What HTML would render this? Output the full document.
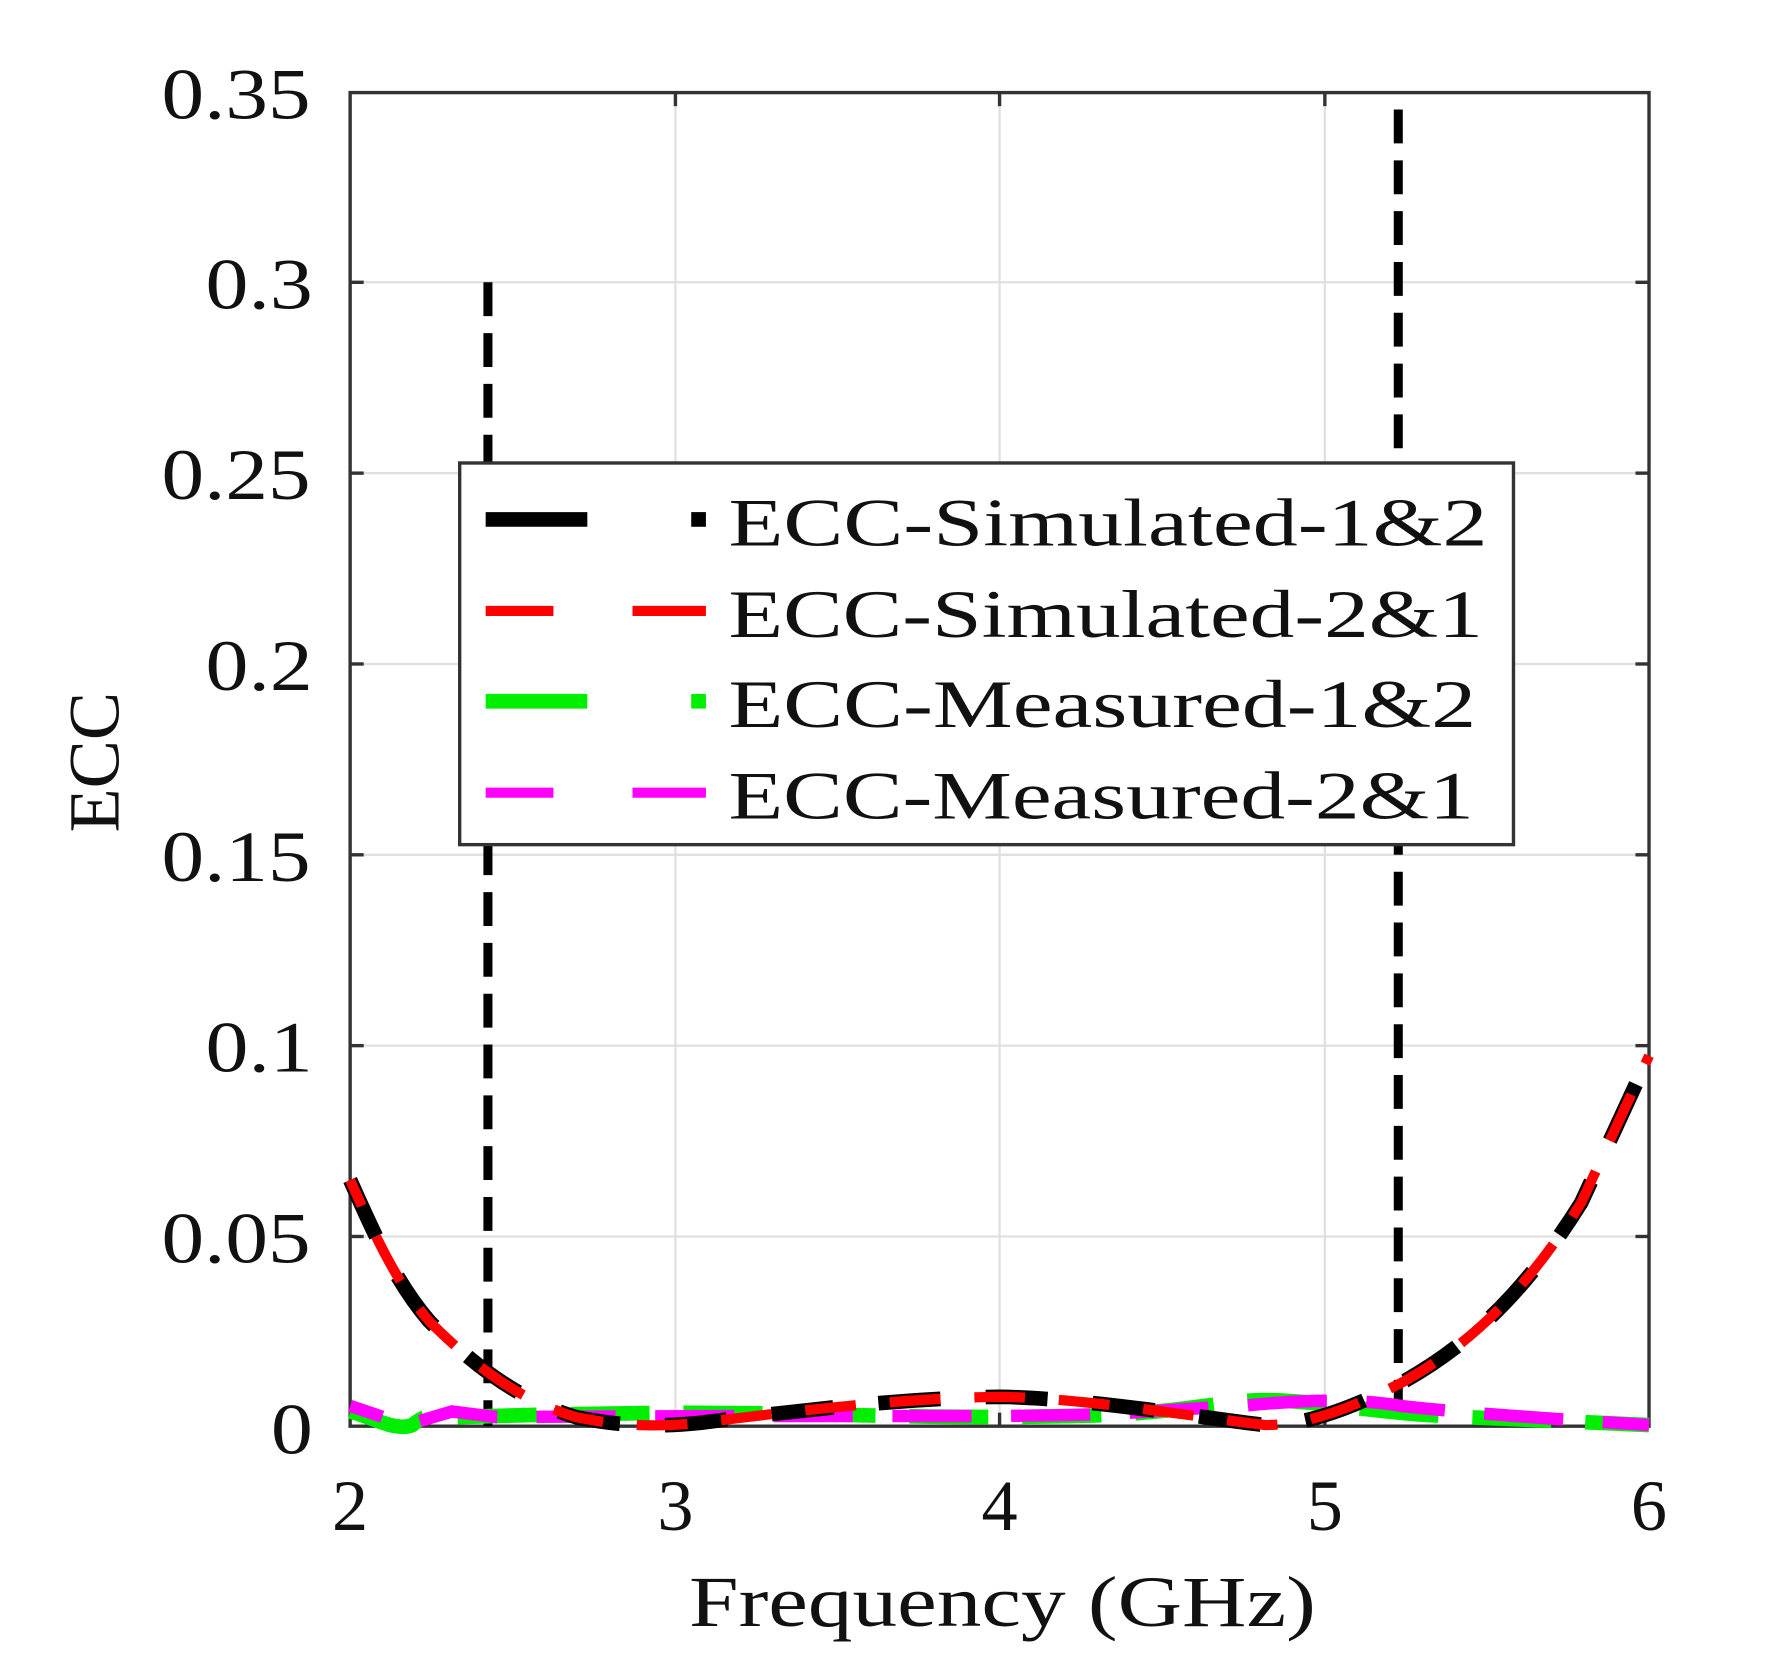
<!DOCTYPE html>
<html><head><style>html,body{margin:0;padding:0;background:#fff}svg{display:block}</style></head>
<body>
<svg width="1771" height="1678" viewBox="0 0 1568 1486" preserveAspectRatio="none" xmlns="http://www.w3.org/2000/svg" font-family="Liberation Serif, serif">
<rect width="1568" height="1486" fill="#fff"/>
<g stroke="#e0e0e0" stroke-width="2">
<line x1="598" y1="82" x2="598" y2="1263"/><line x1="885" y1="82" x2="885" y2="1263"/><line x1="1173" y1="82" x2="1173" y2="1263"/>
<line x1="310" y1="250" x2="1460" y2="250"/><line x1="310" y1="419" x2="1460" y2="419"/><line x1="310" y1="588" x2="1460" y2="588"/>
<line x1="310" y1="757" x2="1460" y2="757"/><line x1="310" y1="926" x2="1460" y2="926"/><line x1="310" y1="1095" x2="1460" y2="1095"/>
</g>
<rect x="310" y="82" width="1150" height="1181" fill="none" stroke="#333" stroke-width="3"/>
<g stroke="#333" stroke-width="3">
<line x1="598" y1="1263" x2="598" y2="1251"/><line x1="885" y1="1263" x2="885" y2="1251"/><line x1="1173" y1="1263" x2="1173" y2="1251"/>
<line x1="598" y1="82" x2="598" y2="94"/><line x1="885" y1="82" x2="885" y2="94"/><line x1="1173" y1="82" x2="1173" y2="94"/>
<line x1="310" y1="250" x2="322" y2="250"/><line x1="310" y1="419" x2="322" y2="419"/><line x1="310" y1="588" x2="322" y2="588"/><line x1="310" y1="757" x2="322" y2="757"/><line x1="310" y1="926" x2="322" y2="926"/><line x1="310" y1="1095" x2="322" y2="1095"/>
<line x1="1460" y1="250" x2="1448" y2="250"/><line x1="1460" y1="419" x2="1448" y2="419"/><line x1="1460" y1="588" x2="1448" y2="588"/><line x1="1460" y1="757" x2="1448" y2="757"/><line x1="1460" y1="926" x2="1448" y2="926"/><line x1="1460" y1="1095" x2="1448" y2="1095"/>
</g>
<g stroke="#000" stroke-width="8" stroke-dasharray="30,15">
<line x1="432" y1="250" x2="432" y2="1263"/><line x1="1238" y1="97" x2="1238" y2="1263"/>
</g>
<g fill="none" stroke-width="13">
<path d="M310,1250 C330,1255 350,1268 365,1262 C380,1250 390,1252 400,1255 C500,1252 600,1250 700,1252 S850,1256 950,1254 S1080,1240 1120,1240 S1200,1248 1250,1252 S1380,1258 1460,1262" stroke="#00ee00" stroke-dasharray="70,30"/>
<path d="M310,1245 L360,1262 L400,1250 L440,1255 C550,1254 700,1254 850,1254 S1000,1250 1100,1245 C1150,1240 1200,1238 1240,1245 C1300,1252 1400,1258 1460,1262" stroke="#ff00ff" stroke-width="11" stroke-dasharray="70,35" stroke-dashoffset="40"/>
<path d="M310,1045 C330,1090 350,1135 380,1170 C420,1210 460,1240 510,1255 C550,1263 580,1264 620,1260 C700,1250 800,1238 885,1237 C960,1238 1060,1255 1120,1262 C1160,1262 1200,1245 1240,1225 C1300,1192 1350,1145 1400,1065 L1460,935" stroke="#000" stroke-dasharray="55,40"/>
<path d="M310,1045 C330,1090 350,1135 380,1170 C420,1210 460,1240 510,1255 C550,1263 580,1264 620,1260 C700,1250 800,1238 885,1237 C960,1238 1060,1255 1120,1262 C1160,1262 1200,1245 1240,1225 C1300,1192 1350,1145 1400,1065 L1460,935" stroke="#ff0000" stroke-width="9" stroke-dasharray="45,30" stroke-dashoffset="20"/>
</g>
<rect x="407" y="410" width="933" height="338" fill="#fff" stroke="#333" stroke-width="3"/>
<g stroke-width="13">
<line x1="430" y1="460" x2="520" y2="460" stroke="#000"/><line x1="612" y1="460" x2="625" y2="460" stroke="#000"/>
<line x1="430" y1="541" x2="490" y2="541" stroke="#ff0000" stroke-width="9"/><line x1="560" y1="541" x2="625" y2="541" stroke="#ff0000" stroke-width="9"/>
<line x1="430" y1="621" x2="520" y2="621" stroke="#00ee00"/><line x1="612" y1="621" x2="625" y2="621" stroke="#00ee00"/>
<line x1="430" y1="702" x2="490" y2="702" stroke="#ff00ff" stroke-width="9"/><line x1="560" y1="702" x2="625" y2="702" stroke="#ff00ff" stroke-width="9"/>
</g>
<g font-size="60" fill="#111" lengthAdjust="spacingAndGlyphs">
<text x="645" y="483" textLength="672" lengthAdjust="spacingAndGlyphs">ECC-Simulated-1&amp;2</text>
<text x="645" y="564" textLength="668" lengthAdjust="spacingAndGlyphs">ECC-Simulated-2&amp;1</text>
<text x="645" y="644" textLength="662" lengthAdjust="spacingAndGlyphs">ECC-Measured-1&amp;2</text>
<text x="645" y="725" textLength="660" lengthAdjust="spacingAndGlyphs">ECC-Measured-2&amp;1</text>
</g>
<g font-size="64" fill="#111">
<text x="143" y="105" textLength="132" lengthAdjust="spacingAndGlyphs">0.35</text>
<text x="182" y="273" textLength="95" lengthAdjust="spacingAndGlyphs">0.3</text>
<text x="143" y="442" textLength="132" lengthAdjust="spacingAndGlyphs">0.25</text>
<text x="182" y="611" textLength="95" lengthAdjust="spacingAndGlyphs">0.2</text>
<text x="143" y="780" textLength="132" lengthAdjust="spacingAndGlyphs">0.15</text>
<text x="182" y="949" textLength="95" lengthAdjust="spacingAndGlyphs">0.1</text>
<text x="143" y="1118" textLength="132" lengthAdjust="spacingAndGlyphs">0.05</text>
<text x="240" y="1287" textLength="37" lengthAdjust="spacingAndGlyphs">0</text>
</g>
<g font-size="64" fill="#111" text-anchor="middle">
<text x="310" y="1355">2</text><text x="598" y="1355">3</text><text x="885" y="1355">4</text><text x="1173" y="1355">5</text><text x="1460" y="1355">6</text>
</g>
<text x="610" y="1440" font-size="64" fill="#111" textLength="555" lengthAdjust="spacingAndGlyphs">Frequency (GHz)</text>
<text transform="translate(105,675) rotate(-90)" font-size="64" fill="#111" text-anchor="middle">ECC</text>
</svg>
</body></html>
